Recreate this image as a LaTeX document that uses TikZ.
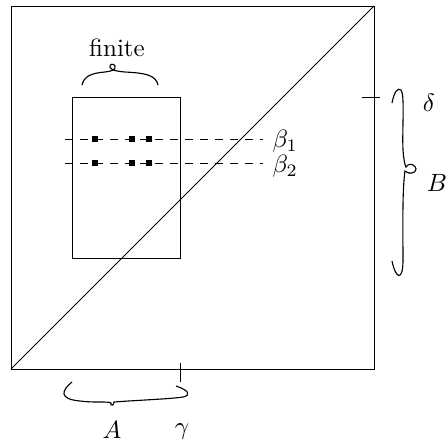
\documentclass[tikz,border=0pt]{standalone}
\usepackage{amsmath,amssymb}
\usepackage{tikz}
\usetikzlibrary{positioning}

\begin{document}
\begin{tikzpicture}[x=0.4pt, y=-0.4pt, line width=0.4pt,
    dot/.style={fill=black, inner sep=0pt, minimum size=2.2pt},
    lbl/.style={inner sep=0pt},
    brace/.style={line width=0.45pt}]

  \useasboundingbox (0,0) rectangle (446,443);

  % outer square and diagonal
  \coordinate (sw) at (11,369);
  \coordinate (ne) at (374,6);
  \draw (sw) rectangle (ne);
  \draw (sw) -- (ne);

  % inner box
  \coordinate (bl) at (72,258);
  \coordinate (tr) at (180,97);
  \draw (bl) rectangle (tr);

  % ticks
  \coordinate (dtick1) at (362,97);
  \coordinate (dtick2) at (380,97);
  \draw (dtick1) -- (dtick2);
  \coordinate (gtick1) at (180,363);
  \coordinate (gtick2) at (180,382);
  \draw (gtick1) -- (gtick2);

  % dashed rows with points
  \coordinate (b1s) at (65,139);
  \coordinate (b1e) at (263,139);
  \coordinate (b2s) at (65,163);
  \coordinate (b2e) at (263,163);
  \draw[dashed] (b1s) -- (b1e);
  \draw[dashed] (b2s) -- (b2e);
  \foreach \px in {95,132,149} {
    \node[dot] (p1\px) at (\px,139) {};
    \node[dot] (p2\px) at (\px,163) {};
  }

  % braces
  \draw[brace] (82,85) .. controls (84,76) and (92,73) .. (105,72)
    .. controls (112,71) and (116,70) .. (115,66)
    .. controls (114,63) and (109,64) .. (110,67)
    .. controls (111,70) and (115,71) .. (125,72)
    .. controls (145,73) and (156,75) .. (158,85);
  \draw[brace] (72,382) .. controls (62,390) and (58,399) .. (80,401)
    .. controls (95,403) and (108,401) .. (111,403)
    .. controls (110,406) and (114,406) .. (114,402)
    .. controls (140,400) and (170,399) .. (183,397)
    .. controls (192,395) and (188,390) .. (176,386);
  \draw[brace] (392,103) .. controls (394,92) and (398,87) .. (401,90)
    .. controls (405,95) and (402,130) .. (403,150)
    .. controls (404,162) and (405,165) .. (406,167)
    .. controls (410,161) and (416,166) .. (416,169)
    .. controls (416,173) and (409,175) .. (405,171)
    .. controls (402,190) and (403,240) .. (403,260)
    .. controls (403,281) and (396,280) .. (392,261);

  % labels
  \node[lbl] (finite) at (117,48) {finite};
  \node[lbl, anchor=west] (beta1) at (272,141) {$\beta_1$};
  \node[lbl, anchor=west] (beta2) at (272,166) {$\beta_2$};
  \node[lbl] (delta) at (429,103) {$\delta$};
  \node[lbl] (setB) at (437,183) {$B$};
  \node[lbl] (setA) at (112,430) {$A$};
  \node[lbl] (gamma) at (182,432) {$\gamma$};

\end{tikzpicture}
\end{document}
